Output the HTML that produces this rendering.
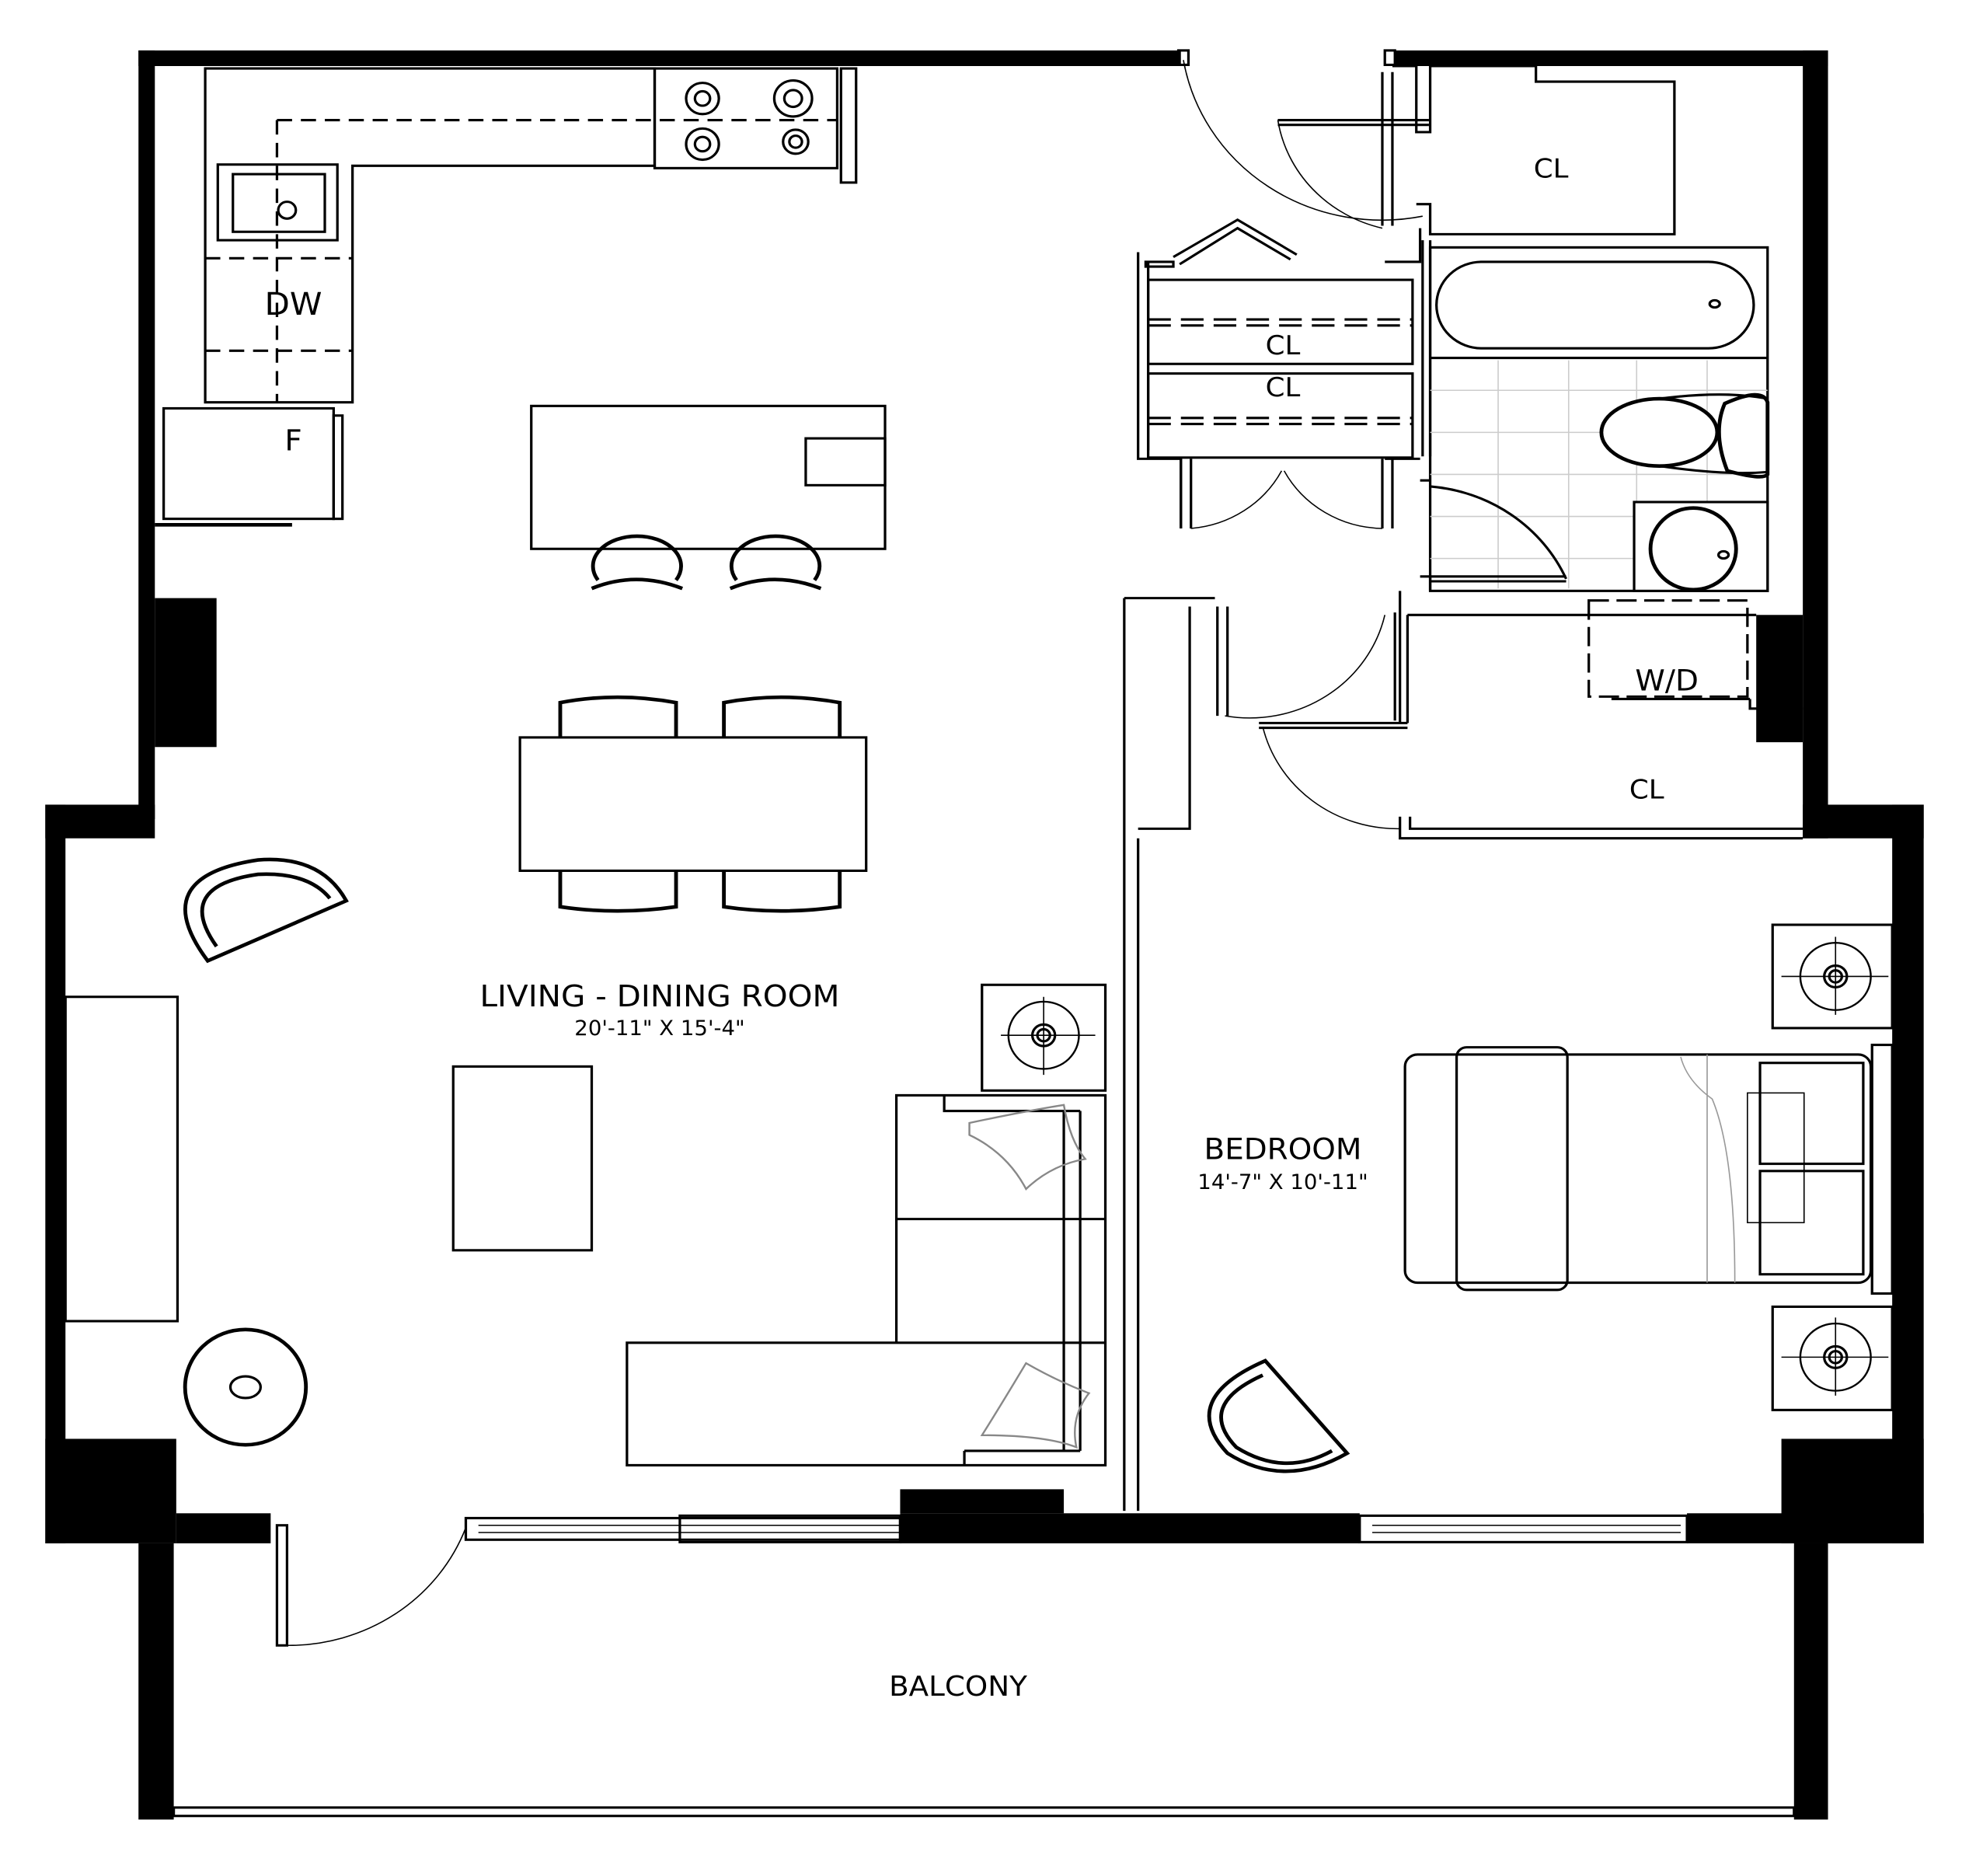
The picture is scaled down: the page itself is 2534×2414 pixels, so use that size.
<!DOCTYPE html>
<html><head><meta charset="utf-8"><style>
html,body{margin:0;padding:0;background:#fff}
svg{display:block}
text{font-family:"DejaVu Sans","Liberation Sans",sans-serif;fill:#000}
</style></head><body>
<svg width="2534" height="2414" viewBox="0 0 1564 1562" preserveAspectRatio="none" xmlns="http://www.w3.org/2000/svg">
<rect width="1564" height="1562" fill="#fff"/>
<g fill="#000">
<rect x="110" y="42" width="828" height="13"/>
<rect x="1108" y="42" width="344" height="13"/>
<rect x="110" y="42" width="13" height="640"/>
<rect x="123" y="498" width="49" height="124"/>
<rect x="36" y="670" width="87" height="28"/>
<rect x="36" y="670" width="16" height="615"/>
<rect x="36" y="1198" width="104" height="87"/>
<rect x="140" y="1260" width="75" height="25"/>
<rect x="715" y="1240" width="130" height="20"/>
<rect x="715" y="1260" width="365" height="25"/>
<rect x="1340" y="1260" width="188" height="25"/>
<rect x="1415" y="1198" width="113" height="87"/>
<rect x="1503" y="670" width="25" height="615"/>
<rect x="1432" y="42" width="20" height="656"/>
<rect x="1432" y="670" width="96" height="28"/>
<rect x="1395" y="512" width="37" height="106"/>
<rect x="110" y="1285" width="28" height="230"/>
<rect x="1425" y="1285" width="27" height="230"/>
</g>
<g fill="none" stroke="#000" stroke-width="2">
<rect x="138" y="1505" width="1287" height="7"/>
<rect x="370" y="1264" width="345" height="18"/>
<line x1="380" y1="1270" x2="715" y2="1270" stroke-width="1"/>
<line x1="380" y1="1276" x2="715" y2="1276" stroke-width="1"/>
<rect x="540" y="1262" width="175" height="22"/>
<rect x="1080" y="1262" width="260" height="22"/>
<line x1="1090" y1="1270" x2="1335" y2="1270" stroke-width="1"/>
<line x1="1090" y1="1276" x2="1335" y2="1276" stroke-width="1"/>
<rect x="220" y="1270" width="8" height="100"/>
<path d="M228 1370 A150 150 0 0 0 370 1272" stroke-width="1"/>
<path d="M940 50 A160 160 0 0 0 1130 180" stroke-width="1"/>
<rect x="936" y="42" width="8" height="12"/>
<rect x="1100" y="42" width="8" height="12"/>
<path d="M1098 60 V188 M1106 60 V188"/>
<path d="M1106 55 H1125 V110 H1136 V55 H1220 V68 H1330 V195 H1136 V170 H1125"/>
<path d="M1015 100 H1135 M1015 104 H1135"/>
<path d="M1015 100 A110 110 0 0 0 1098 190" stroke-width="1"/>
<path d="M910 218 H932 V222 H910 Z"/>
<path d="M904 210 V382 H938 V440 M912 218 V375"/>
<path d="M932 214 L983 183 L1030 212 M937 220 L983 190 L1025 216"/>
<rect x="912" y="233" width="210" height="70"/>
<rect x="912" y="311" width="210" height="70"/>
<path d="M912 266 H1122 M912 271 H1122 M912 348 H1122 M912 353 H1122" stroke-dasharray="18 8"/>
<path d="M1098 382 V440 M1106 382 V440 M938 382 V440 M946 382 V440"/>
<path d="M946 440 A90 90 0 0 0 1018 392 M1020 392 A90 90 0 0 0 1098 440" stroke-width="1"/>
<path d="M1100 218 H1128 V190 M1128 382 H1100"/>
<path d="M1130 200 V380 M1136 200 V380"/>
<rect x="1136" y="206" width="268" height="286"/>
<path d="M1136 298 H1404"/>
<rect x="1141" y="218" width="252" height="72" rx="36"/>
<ellipse cx="1362" cy="253" rx="4" ry="3"/>
<g stroke="#ccc" stroke-width="1">
<path d="M1190 300 V490 M1246 300 V490 M1300 300 V420 M1356 300 V420 M1136 325 H1404 M1136 360 H1404 M1136 395 H1404 M1136 430 H1300 M1136 465 H1300"/>
</g>
<ellipse cx="1318" cy="360" rx="46" ry="28" stroke-width="3" fill="#fff"/>
<path d="M1370 336 Q1400 322 1404 335 V395 Q1400 400 1372 392 Q1360 360 1370 336 Z" stroke-width="3" fill="#fff"/>
<path d="M1318 332 Q1370 325 1404 332 M1318 388 Q1370 396 1404 393" />
<rect x="1298" y="418" width="106" height="74" fill="#fff"/>
<circle cx="1345" cy="457" r="34" stroke-width="3"/>
<ellipse cx="1369" cy="462" rx="4" ry="3"/>
<path d="M1136 405 A130 130 0 0 1 1244 482 M1136 480 H1244 M1136 484 H1244"/>
<path d="M1128 400 H1136 M1128 480 H1136 V492"/>
<path d="M1112 492 V602 M1118 512 V602 M1118 512 H1395"/>
<rect x="1262" y="500" width="126" height="80" stroke-dasharray="16 6"/>
<path d="M1280 582 H1390 M1390 582 V590 H1432"/>
<path d="M1000 602 H1118 M1000 606 H1118"/>
<path d="M1003 605 A110 110 0 0 0 1112 690" stroke-width="1"/>
<path d="M1112 680 V698 H1432 M1120 680 V690 H1432"/>
<path d="M1100 512 A110 110 0 0 1 973 596" stroke-width="1"/>
<path d="M1108 510 V600"/>
<path d="M893 498 V1258 M904 698 V1258 M893 498 H965 M945 505 V690 H904"/>
<path d="M967 505 V596 M975 505 V596"/>
<path d="M163 57 H520 V138 H280 V335 H163 Z"/>
<rect x="520" y="57" width="145" height="83"/>
<rect x="668" y="57" width="12" height="95"/>
<circle cx="558" cy="82" r="13"/><circle cx="558" cy="82" r="6"/>
<circle cx="630" cy="82" r="15"/><circle cx="630" cy="82" r="7"/>
<circle cx="558" cy="120" r="13"/><circle cx="558" cy="120" r="6"/>
<circle cx="632" cy="118" r="10"/><circle cx="632" cy="118" r="5"/>
<rect x="173" y="137" width="95" height="63"/>
<rect x="185" y="145" width="73" height="48"/>
<circle cx="228" cy="175" r="7"/>
<path d="M220 100 H665 M220 100 V335 M163 215 H280 M163 292 H280" stroke-dasharray="12 7"/>
<rect x="130" y="340" width="135" height="92"/>
<rect x="265" y="346" width="7" height="86"/>
<path d="M123 437 H232" stroke-width="3"/>
<rect x="422" y="338" width="281" height="119"/>
<rect x="640" y="365" width="63" height="39"/>
<path d="M470 490 Q505 475 542 490 M475 483 A35 25 0 1 1 537 483 M580 490 Q615 475 652 490 M585 483 A35 25 0 1 1 647 483" stroke-width="3"/>
<rect x="413" y="614" width="275" height="111"/>
<path d="M445 614 V585 Q490 576 537 585 V614 M575 614 V585 Q620 576 667 585 V614 M445 725 V755 Q490 762 537 755 V725 M575 725 V755 Q620 762 667 755 V725" stroke-width="3"/>
<path d="M165 800 Q115 730 205 716 Q255 712 275 750 Z M172 788 Q138 738 205 728 Q245 726 262 748" stroke-width="3"/>
<rect x="52" y="830" width="89" height="270"/>
<circle cx="195" cy="1155" r="48" stroke-width="3"/>
<ellipse cx="195" cy="1155" rx="12" ry="9"/>
<rect x="360" y="888" width="110" height="153"/>
<rect x="780" y="820" width="98" height="88"/>
<circle cx="829" cy="862" r="28" stroke-width="1.5"/>
<circle cx="829" cy="862" r="9"/><circle cx="829" cy="862" r="5"/>
<path d="M829 830 V895 M795 862 H870" stroke-width="1"/>
<path d="M712 912 H878 V1220 H498 V1118 H712 Z M712 1015 H878 M712 1118 H878"/>
<path d="M750 912 V925 H858 M858 925 V1208 M766 1208 H858 M766 1208 V1220 M845 925 V1208"/>
<path d="M770 935 Q815 925 845 920 Q850 950 862 965 Q835 970 815 990 Q800 960 770 945 Z" stroke="#888" stroke-width="1.5"/>
<path d="M815 1135 Q840 1150 865 1160 Q850 1180 855 1205 Q830 1195 780 1195 Q795 1170 815 1135 Z" stroke="#888" stroke-width="1.5"/>
<rect x="1408" y="770" width="95" height="86"/>
<circle cx="1458" cy="813" r="28" stroke-width="1.5"/>
<circle cx="1458" cy="813" r="9"/><circle cx="1458" cy="813" r="5"/>
<path d="M1458 780 V845 M1415 813 H1500" stroke-width="1"/>
<rect x="1408" y="1088" width="95" height="86"/>
<circle cx="1458" cy="1130" r="28" stroke-width="1.5"/>
<circle cx="1458" cy="1130" r="9"/><circle cx="1458" cy="1130" r="5"/>
<path d="M1458 1097 V1162 M1415 1130 H1500" stroke-width="1"/>
<rect x="1116" y="878" width="370" height="190" rx="10"/>
<rect x="1157" y="872" width="88" height="202" rx="8"/>
<rect x="1487" y="870" width="16" height="207"/>
<rect x="1398" y="885" width="82" height="84"/>
<rect x="1398" y="975" width="82" height="86"/>
<rect x="1388" y="910" width="45" height="108" stroke-width="1"/>
<path d="M1356 878 V1068 M1335 880 Q1340 900 1360 915 Q1378 960 1378 1068" stroke="#999" stroke-width="1"/>
<path d="M1005 1133 L1070 1210 Q1020 1240 975 1210 Q935 1165 1005 1133 Z M1003 1145 Q950 1170 982 1205 Q1020 1230 1058 1208" stroke-width="3"/>
</g>
<text x="233" y="262" font-size="26" text-anchor="middle">DW</text>
<text x="233" y="375" font-size="24" text-anchor="middle">F</text>
<text x="1232" y="148" font-size="22" text-anchor="middle">CL</text>
<text x="1019" y="295" font-size="22" text-anchor="middle">CL</text>
<text x="1019" y="330" font-size="22" text-anchor="middle">CL</text>
<text x="1324" y="575" font-size="24" text-anchor="middle">W/D</text>
<text x="1308" y="665" font-size="22" text-anchor="middle">CL</text>
<text x="524" y="838" font-size="25" text-anchor="middle">LIVING - DINING ROOM</text>
<text x="524" y="862" font-size="17" text-anchor="middle">20'-11" X 15'-4"</text>
<text x="1019" y="965" font-size="24" text-anchor="middle">BEDROOM</text>
<text x="1019" y="990" font-size="17" text-anchor="middle">14'-7" X 10'-11"</text>
<text x="761" y="1412" font-size="23" text-anchor="middle">BALCONY</text>
</svg>
</body></html>
